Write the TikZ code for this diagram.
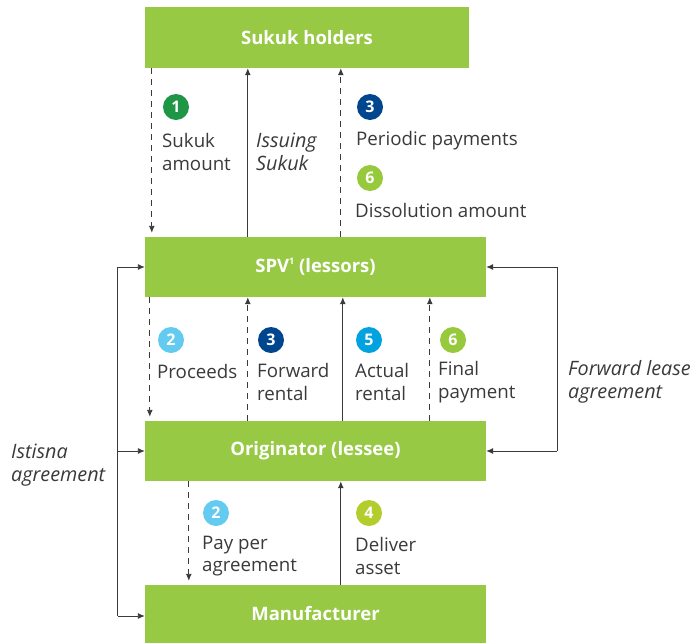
\documentclass[tikz,border=0pt]{standalone}
\usepackage{fontspec}
\setmainfont{Open Sans}
\usetikzlibrary{arrows.meta,calc}
\definecolor{boxgreen}{HTML}{97C945}
\definecolor{txt}{HTML}{3A3A3A}
\definecolor{cA}{HTML}{1E9646}
\definecolor{cB}{HTML}{62CBEF}
\definecolor{cC}{HTML}{00468E}
\definecolor{cD}{HTML}{B2CD2C}
\definecolor{cE}{HTML}{00A3E0}
\definecolor{cF}{HTML}{97C93D}
\tikzset{
  entity/.style={fill=boxgreen, text=white, font=\bfseries\fontsize{18.5}{20}\selectfont, minimum width=341pt, minimum height=60pt, inner sep=0pt},
  flow/.style={draw=txt, line width=0.9pt, -{Latex[length=7pt,width=6pt]}},
  dflow/.style={flow, dash pattern=on 6pt off 5pt},
  badge/.style={circle, fill=#1, text=white, font=\bfseries\fontsize{16}{16}\selectfont, minimum size=26pt, inner sep=0pt},
  lbl/.style={text=txt, font=\fontsize{18.7}{22.5}\selectfont, align=left, anchor=west, inner sep=0pt},
  ilbl/.style={lbl, font=\itshape\fontsize{19.8}{22.5}\selectfont}
}
\begin{document}
\begin{tikzpicture}[x=1pt,y=-1pt]
\useasboundingbox (0,0) rectangle (696,643);
% boxes
\node[entity, minimum width=324pt, minimum height=61pt] (hold) at (307,37.5) {Sukuk holders};
\node[entity] (spv) at (315.5,267) {SPV\raisebox{0.75ex}{\fontsize{9}{9}\selectfont 1} (lessors)};
\node[entity] (orig) at (315.5,451) {Originator (lessee)};
\node[entity, minimum height=58pt] (man) at (315.5,614) {Manufacturer};
% top arrows
\draw[dflow, shorten >=4pt] ([xshift=7pt]hold.south west) -- ([xshift=7pt]spv.north west);
\draw[flow] ([xshift=103pt]spv.north west) -- ([xshift=103pt]hold.south west);
\draw[dflow] ([xshift=196pt]spv.north west) -- ([xshift=196pt]hold.south west);
% middle arrows
\draw[dflow, shorten >=4pt] ([xshift=5pt]spv.south west) -- ([xshift=5pt]orig.north west);
\draw[dflow] ([xshift=103pt]orig.north west) -- ([xshift=103pt]spv.south west);
\draw[flow] ([xshift=198pt]orig.north west) -- ([xshift=198pt]spv.south west);
\draw[dflow] ([xshift=285pt]orig.north west) -- ([xshift=285pt]spv.south west);
% bottom arrows
\draw[dflow, shorten >=4pt] ([xshift=44pt]orig.south west) -- ([xshift=44pt]man.north west);
\draw[flow] ([xshift=196pt]man.north west) -- ([xshift=196pt]orig.south west);
% left istisna loop
\coordinate (lt) at ([xshift=-27pt]spv.west);
\coordinate (lb) at ([xshift=-27pt,yshift=-2pt]man.west);
\draw[draw=txt, line width=0.9pt] (lt) -- (lb);
\draw[flow] (lt) -- (spv.west);
\draw[flow] (lt |- orig.west) -- (orig.west);
\draw[flow] (lb) -- (lb -| man.west);
% right forward lease loop
\coordinate (rt) at ([xshift=71pt]spv.east);
\draw[draw=txt, line width=0.9pt] (rt) -- (rt |- orig.east);
\draw[flow] (rt) -- (spv.east);
\draw[flow] (rt |- orig.east) -- (orig.east);
% badges and labels
\node[badge=cA] (b1) at (176,107) {1};
\node[lbl] (t1) at (162,152) {Sukuk\\amount};
\node[ilbl] (t1i) at (256,152) {Issuing\\Sukuk};
\node[badge=cC] (b3a) at (370,107) {3};
\node[lbl] (t3a) at (356,141) {Periodic payments};
\node[badge=cF] (b6a) at (370,178) {6};
\node[lbl] (t6a) at (355,210) {Dissolution amount};
\node[badge=cB] (b2a) at (171,340) {2};
\node[lbl] (t2a) at (157,371) {Proceeds};
\node[badge=cC] (b3b) at (271,340) {3};
\node[lbl] (t3b) at (257,382) {Forward\\rental};
\node[badge=cE] (b5) at (369,340) {5};
\node[lbl] (t5) at (355,382) {Actual\\rental};
\node[badge=cF] (b6b) at (453,340) {6};
\node[lbl] (t6b) at (438,382) {Final\\payment};
\node[ilbl] (tfl) at (568,382) {Forward lease\\agreement};
\node[ilbl] (tis) at (11,465) {Istisna\\agreement};
\node[badge=cB] (b2b) at (216,513) {2};
\node[lbl] (t2b) at (202,556) {Pay per\\agreement};
\node[badge=cD] (b4) at (369,513) {4};
\node[lbl] (t4) at (355,556) {Deliver\\asset};
\end{tikzpicture}
\end{document}
